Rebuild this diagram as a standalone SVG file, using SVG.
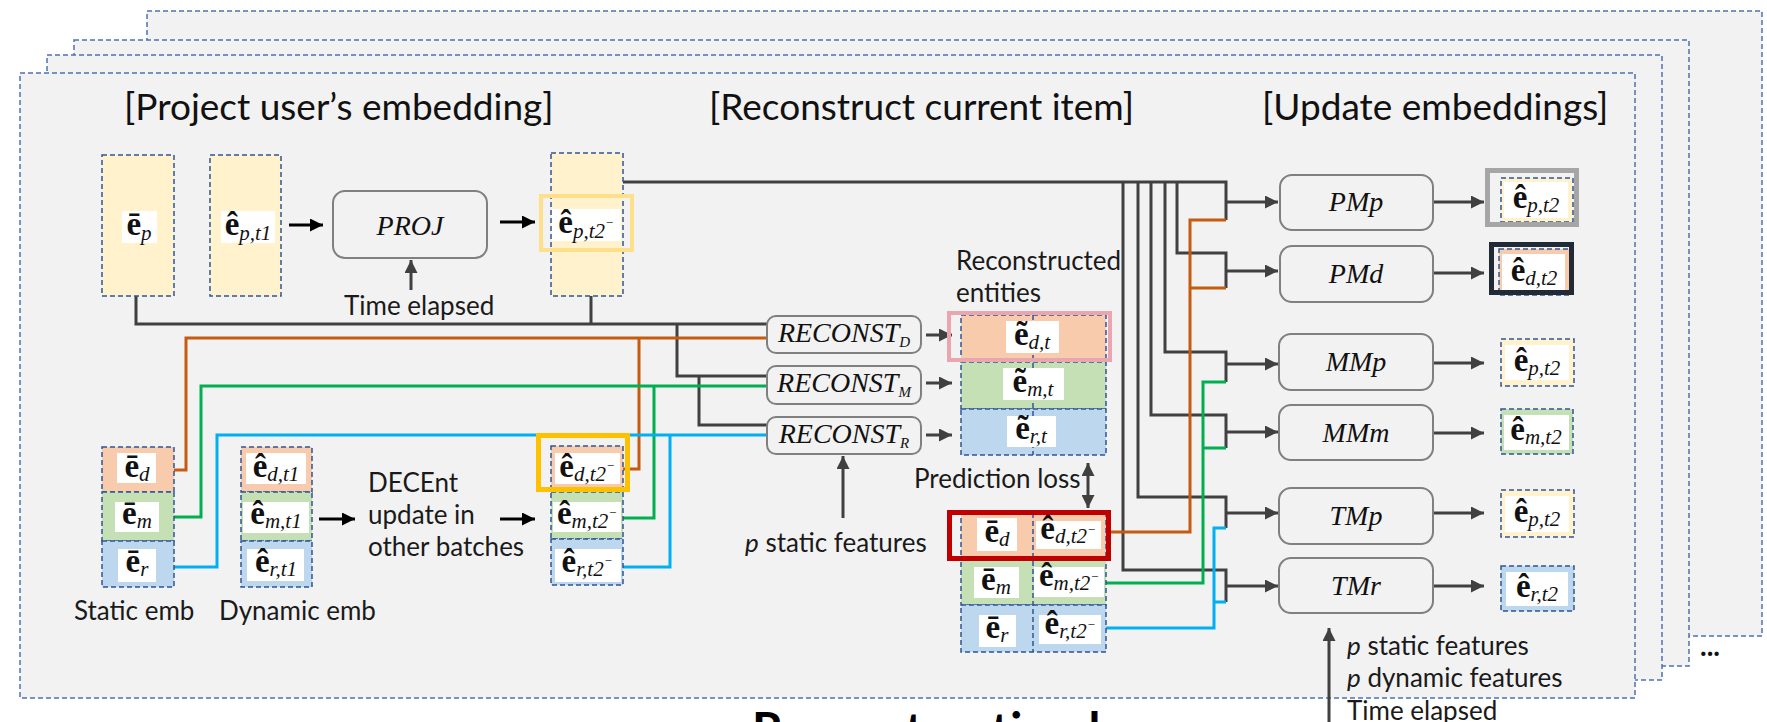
<svg xmlns="http://www.w3.org/2000/svg" width="1767" height="722" viewBox="0 0 1767 722">
<style>
.frame{fill:#f2f2f2;stroke:#4f72b0;stroke-width:1.5;stroke-dasharray:5 3}
.cell{stroke:#2f5597;stroke-width:1.5;stroke-dasharray:5 3}
.dv{fill:none;stroke:#2f5597;stroke-width:1.5;stroke-dasharray:5 3}
.y{fill:#fff2cc}.o{fill:#f8cbad}.g{fill:#c5e0b4}.b{fill:#bdd7ee}
.wb{fill:#fff}
.box{fill:#f2f2f2;stroke:#808080;stroke-width:2}
.fn{font-family:"Liberation Serif",serif;font-style:italic;font-size:28px;fill:#111;text-anchor:middle}
.m{font-family:"Liberation Serif",serif;font-size:33px;fill:#111;text-anchor:middle}
.e{font-weight:bold}
.s{font-style:italic;font-size:21px}
.sm{font-size:13px}
.t{font-family:Lato,"Liberation Sans",sans-serif;font-size:26px;fill:#1a1a1a}
.h{font-family:Lato,"Liberation Sans",sans-serif;font-size:37px;fill:#111}
.dk{fill:none;stroke:#404040;stroke-width:3}
.or{fill:none;stroke:#c55a11;stroke-width:3}
.gr{fill:none;stroke:#00b050;stroke-width:3}
.bl{fill:none;stroke:#00b0f0;stroke-width:3}
.ar{fill:none;stroke:#404040;stroke-width:3;marker-end:url(#ah)}
.ak{fill:none;stroke:#000;stroke-width:3;marker-end:url(#ahk)}
.hl{fill:none}
</style>
<defs>
<marker id="ah" viewBox="0 0 10 10" refX="10" refY="5" markerWidth="13" markerHeight="13" markerUnits="userSpaceOnUse" orient="auto-start-reverse"><path d="M0,0 L10,5 L0,10 z" fill="#404040"/></marker>
<marker id="ahk" viewBox="0 0 10 10" refX="10" refY="5" markerWidth="13" markerHeight="13" markerUnits="userSpaceOnUse" orient="auto"><path d="M0,0 L10,5 L0,10 z" fill="#000"/></marker>
</defs>

<g id="frames">
<rect class="frame" x="147" y="11" width="1615" height="625"/>
<rect class="frame" x="74" y="40" width="1615" height="626"/>
<rect class="frame" x="47" y="55" width="1615" height="625"/>
<rect class="frame" x="20" y="73" width="1615" height="625"/>
<text x="1700" y="656" font-family="Lato,'Liberation Sans',sans-serif" font-size="28" font-weight="bold" fill="#111">...</text>
</g>

<g id="titles">
<text class="h" x="124" y="120">[Project user’s embedding]</text>
<text class="h" x="709" y="120">[Reconstruct current item]</text>
<text class="h" x="1262" y="120">[Update embeddings]</text>
</g>

<g id="connectors">
<path class="dk" d="M136,296 V324 H767"/>
<path class="dk" d="M591,296 V324"/>
<path class="dk" d="M677,324 V376 H767"/>
<path class="dk" d="M699,376 V425 H767"/>
<path class="dk" d="M621,182 H1226 V220"/>
<path class="dk" d="M1177,182 V253 H1226 V288"/>
<path class="dk" d="M1165,182 V352 H1226 V382"/>
<path class="dk" d="M1151,182 V415 H1226 V448"/>
<path class="dk" d="M1138,182 V497 H1226 V528"/>
<path class="dk" d="M1123,182 V570 H1226 V602"/>
<path class="or" d="M174,470 H186 V338 H767"/>
<path class="or" d="M623,469 H639 V338"/>
<path class="or" d="M1110,532 H1190 V220 H1226"/>
<path class="or" d="M1190,288 H1226"/>
<path class="gr" d="M174,517 H201 V386 H767"/>
<path class="gr" d="M623,518 H654 V386"/>
<path class="gr" d="M1105,583 H1203 V382 H1226"/>
<path class="gr" d="M1203,448 H1226"/>
<path class="bl" d="M174,567 H217 V435 H767"/>
<path class="bl" d="M623,567 H670 V435"/>
<path class="bl" d="M1105,628 H1214 V528 H1226"/>
<path class="bl" d="M1214,602 H1226"/>
<path class="ak" d="M289,225 H323"/>
<path class="ak" d="M500,222 H535"/>
<path class="ak" d="M319,519 H355"/>
<path class="ak" d="M500,519 H535"/>
<path class="ar" d="M411,290 V260"/>
<path class="ar" d="M926,335 H952"/>
<path class="ar" d="M926,383 H952"/>
<path class="ar" d="M926,435 H952"/>
<path class="ar" d="M843,518 V456"/>
<path class="ar" d="M1088,463 V508" marker-start="url(#ah)"/>
<path class="ar" d="M1226,202 H1278"/>
<path class="ar" d="M1226,271 H1278"/>
<path class="ar" d="M1226,364 H1278"/>
<path class="ar" d="M1226,432 H1278"/>
<path class="ar" d="M1226,513 H1278"/>
<path class="ar" d="M1226,586 H1278"/>
<path class="ar" d="M1433,202 H1484"/>
<path class="ar" d="M1433,273 H1484"/>
<path class="ar" d="M1433,363 H1484"/>
<path class="ar" d="M1433,433 H1484"/>
<path class="ar" d="M1433,513 H1484"/>
<path class="ar" d="M1433,586 H1484"/>
<path class="ar" d="M1329,722 V628"/>
</g>

<g id="col-ep">
<rect class="cell y" x="102" y="155" width="72" height="141"/>
<rect class="wb" x="122" y="211" width="35" height="32"/>
<text class="m" x="139" y="235"><tspan class="e">ē</tspan><tspan class="s" dy="5">p</tspan></text>
</g>
<g id="col-ept1">
<rect class="cell y" x="210" y="155" width="71" height="141"/>
<rect class="wb" x="221" y="211" width="54" height="32"/>
<text class="m" x="248" y="235"><tspan class="e">ê</tspan><tspan class="s" dy="5">p,t1</tspan></text>
</g>
<g id="proj">
<rect class="box" x="333" y="191" width="154" height="67" rx="12"/>
<text class="fn" x="410" y="235">PROJ</text>
</g>
<g id="col-ept2">
<rect class="cell y" x="551" y="153" width="72" height="143"/>
<rect class="wb" x="552" y="209" width="69" height="32"/>
<text class="m" x="586" y="233"><tspan class="e">ê</tspan><tspan class="s" dy="5">p,t2</tspan><tspan class="s sm" dy="-11">−</tspan></text>
<rect class="hl" x="541" y="196" width="91" height="54" stroke="#ffe08a" stroke-width="4"/>
</g>

<g id="static-emb">
<rect class="cell o" x="102" y="447" width="72" height="45"/>
<rect class="cell g" x="102" y="492" width="72" height="49"/>
<rect class="cell b" x="102" y="541" width="72" height="46"/>
<rect class="wb" x="117" y="453" width="39" height="30"/>
<rect class="wb" x="115" y="502" width="44" height="30"/>
<rect class="wb" x="118" y="549" width="38" height="33"/>
<text class="m" x="137" y="477"><tspan class="e">ē</tspan><tspan class="s" dy="4">d</tspan></text>
<text class="m" x="137" y="524"><tspan class="e">ē</tspan><tspan class="s" dy="4">m</tspan></text>
<text class="m" x="137" y="572"><tspan class="e">ē</tspan><tspan class="s" dy="4">r</tspan></text>
</g>
<g id="dynamic-emb">
<rect class="cell o" x="241" y="447" width="71" height="45"/>
<rect class="cell g" x="241" y="492" width="71" height="49"/>
<rect class="cell b" x="241" y="541" width="71" height="46"/>
<rect class="wb" x="246" y="453" width="60" height="31"/>
<rect class="wb" x="243" y="502" width="66" height="31"/>
<rect class="wb" x="247" y="549" width="57" height="32"/>
<text class="m" x="276" y="477"><tspan class="e">ê</tspan><tspan class="s" dy="4">d,t1</tspan></text>
<text class="m" x="276" y="524"><tspan class="e">ê</tspan><tspan class="s" dy="4">m,t1</tspan></text>
<text class="m" x="276" y="572"><tspan class="e">ê</tspan><tspan class="s" dy="4">r,t1</tspan></text>
</g>
<g id="t2-emb">
<rect class="cell o" x="551" y="446" width="72" height="46"/>
<rect class="cell g" x="551" y="492" width="72" height="47"/>
<rect class="cell b" x="551" y="539" width="72" height="46"/>
<rect class="wb" x="555" y="453" width="65" height="31"/>
<rect class="wb" x="553" y="502" width="68" height="30"/>
<rect class="wb" x="555" y="549" width="66" height="33"/>
<text class="m" x="587" y="477"><tspan class="e">ê</tspan><tspan class="s" dy="4">d,t2</tspan><tspan class="s sm" dy="-11">−</tspan></text>
<text class="m" x="587" y="524"><tspan class="e">ê</tspan><tspan class="s" dy="4">m,t2</tspan><tspan class="s sm" dy="-11">−</tspan></text>
<text class="m" x="587" y="572"><tspan class="e">ê</tspan><tspan class="s" dy="4">r,t2</tspan><tspan class="s sm" dy="-11">−</tspan></text>
<rect class="hl" x="538.5" y="435.5" width="89" height="54" stroke="#ffc000" stroke-width="5"/>
</g>

<g id="reconst-d">
<rect class="box" x="767" y="316" width="154" height="37" rx="9"/>
<text class="fn" x="844" y="342" font-size="23">RECONST<tspan font-size="15" dy="5">D</tspan></text>
</g>
<g id="reconst-m">
<rect class="box" x="767" y="366" width="154" height="38" rx="9"/>
<text class="fn" x="844" y="392" font-size="23">RECONST<tspan font-size="15" dy="5">M</tspan></text>
</g>
<g id="reconst-r">
<rect class="box" x="767" y="417" width="154" height="37" rx="9"/>
<text class="fn" x="844" y="443" font-size="23">RECONST<tspan font-size="15" dy="5">R</tspan></text>
</g>

<g id="reconstructed">
<rect class="cell o" x="961" y="315" width="145" height="47"/>
<rect class="cell g" x="961" y="362" width="145" height="47"/>
<rect class="cell b" x="961" y="409" width="145" height="46"/>
<path class="dv" d="M1033,315 V455"/>
<rect class="wb" x="1006" y="321" width="53" height="32"/>
<rect class="wb" x="1003" y="368" width="61" height="32"/>
<rect class="wb" x="1007" y="416" width="49" height="31"/>
<text class="m" x="1032" y="345"><tspan class="e">ẽ</tspan><tspan class="s" dy="4">d,t</tspan></text>
<text class="m" x="1033" y="392"><tspan class="e">ẽ</tspan><tspan class="s" dy="4">m,t</tspan></text>
<text class="m" x="1031" y="439"><tspan class="e">ẽ</tspan><tspan class="s" dy="4">r,t</tspan></text>
<rect class="hl" x="949" y="313" width="161" height="47" stroke="#eaa5ae" stroke-width="4"/>
</g>

<g id="current">
<rect class="cell o" x="961" y="513" width="145" height="44"/>
<rect class="cell g" x="961" y="557" width="145" height="48"/>
<rect class="cell b" x="961" y="605" width="145" height="47"/>
<path class="dv" d="M1033,513 V652"/>
<rect class="wb" x="977" y="518" width="40" height="33"/>
<rect class="wb" x="1036" y="521" width="65" height="28"/>
<rect class="wb" x="974" y="567" width="45" height="31"/>
<rect class="wb" x="1034" y="567" width="70" height="30"/>
<rect class="wb" x="979" y="615" width="37" height="32"/>
<rect class="wb" x="1039" y="615" width="62" height="29"/>
<text class="m" x="997" y="542"><tspan class="e">ē</tspan><tspan class="s" dy="4">d</tspan></text>
<text class="m" x="996" y="590"><tspan class="e">ē</tspan><tspan class="s" dy="4">m</tspan></text>
<text class="m" x="997" y="638"><tspan class="e">ē</tspan><tspan class="s" dy="4">r</tspan></text>
<text class="m" x="1068" y="539" font-size="28"><tspan class="e">ê</tspan><tspan class="s" font-size="18" dy="4">d,t2</tspan><tspan class="s sm" dy="-9">−</tspan></text>
<text class="m" x="1069" y="586" font-size="28"><tspan class="e">ê</tspan><tspan class="s" font-size="18" dy="4">m,t2</tspan><tspan class="s sm" dy="-9">−</tspan></text>
<text class="m" x="1070" y="634" font-size="28"><tspan class="e">ê</tspan><tspan class="s" font-size="18" dy="4">r,t2</tspan><tspan class="s sm" dy="-9">−</tspan></text>
<rect class="hl" x="949.5" y="512.5" width="159" height="46" stroke="#c00000" stroke-width="5"/>
</g>

<g id="pmp"><rect class="box" x="1280" y="175" width="153" height="55" rx="12"/><text class="fn" x="1356" y="211">PMp</text></g>
<g id="pmd"><rect class="box" x="1280" y="246" width="153" height="56" rx="12"/><text class="fn" x="1356" y="283">PMd</text></g>
<g id="mmp"><rect class="box" x="1279" y="334" width="154" height="56" rx="12"/><text class="fn" x="1356" y="371">MMp</text></g>
<g id="mmm"><rect class="box" x="1279" y="405" width="154" height="55" rx="12"/><text class="fn" x="1356" y="442">MMm</text></g>
<g id="tmp"><rect class="box" x="1279" y="488" width="154" height="56" rx="12"/><text class="fn" x="1356" y="525">TMp</text></g>
<g id="tmr"><rect class="box" x="1279" y="558" width="154" height="55" rx="12"/><text class="fn" x="1356" y="595">TMr</text></g>

<g id="out-pmp">
<rect class="cell y" x="1501" y="178" width="72" height="44"/>
<rect class="wb" x="1504" y="182" width="64" height="36"/>
<text class="m" x="1536" y="208"><tspan class="e">ê</tspan><tspan class="s" dy="4">p,t2</tspan></text>
<rect class="hl" x="1487.5" y="170.5" width="89" height="54" stroke="#a6a6a6" stroke-width="5"/>
</g>
<g id="out-pmd">
<rect class="cell o" x="1499" y="249" width="72" height="46"/>
<rect class="wb" x="1502" y="254" width="63" height="37"/>
<text class="m" x="1534" y="281"><tspan class="e">ê</tspan><tspan class="s" dy="4">d,t2</tspan></text>
<rect class="hl" x="1491.5" y="244.5" width="80" height="48" stroke="#222a35" stroke-width="5"/>
</g>
<g id="out-mmp">
<rect class="cell y" x="1501" y="339" width="73" height="47"/>
<rect class="wb" x="1505" y="345" width="64" height="35"/>
<text class="m" x="1537" y="371"><tspan class="e">ê</tspan><tspan class="s" dy="4">p,t2</tspan></text>
</g>
<g id="out-mmm">
<rect class="cell g" x="1501" y="409" width="72" height="45"/>
<rect class="wb" x="1504" y="415" width="65" height="35"/>
<text class="m" x="1536" y="440"><tspan class="e">ê</tspan><tspan class="s" dy="4">m,t2</tspan></text>
</g>
<g id="out-tmp">
<rect class="cell y" x="1501" y="490" width="73" height="47"/>
<rect class="wb" x="1505" y="496" width="64" height="36"/>
<text class="m" x="1537" y="522"><tspan class="e">ê</tspan><tspan class="s" dy="4">p,t2</tspan></text>
</g>
<g id="out-tmr">
<rect class="cell b" x="1501" y="566" width="73" height="45"/>
<rect class="wb" x="1506" y="572" width="62" height="34"/>
<text class="m" x="1537" y="597"><tspan class="e">ê</tspan><tspan class="s" dy="4">r,t2</tspan></text>
</g>

<g id="labels">
<text class="t" x="344" y="315">Time elapsed</text>
<text class="t" x="74" y="620">Static emb</text>
<text class="t" x="219" y="620">Dynamic emb</text>
<text class="t" x="368" y="492">DECEnt</text>
<text class="t" x="368" y="524">update in</text>
<text class="t" x="368" y="556">other batches</text>
<text class="t" x="745" y="552"><tspan font-style="italic">p</tspan> static features</text>
<text class="t" x="956" y="270">Reconstructed</text>
<text class="t" x="956" y="302">entities</text>
<text class="t" x="914" y="488">Prediction loss</text>
<text class="t" x="1347" y="655"><tspan font-style="italic">p</tspan> static features</text>
<text class="t" x="1347" y="687"><tspan font-style="italic">p</tspan> dynamic features</text>
<text class="t" x="1347" y="720">Time elapsed</text>
<text x="752" y="747" font-family="Lato,'Liberation Sans',sans-serif" font-size="48" font-weight="bold" fill="#000">Reconstruction loss</text>
</g>
</svg>
